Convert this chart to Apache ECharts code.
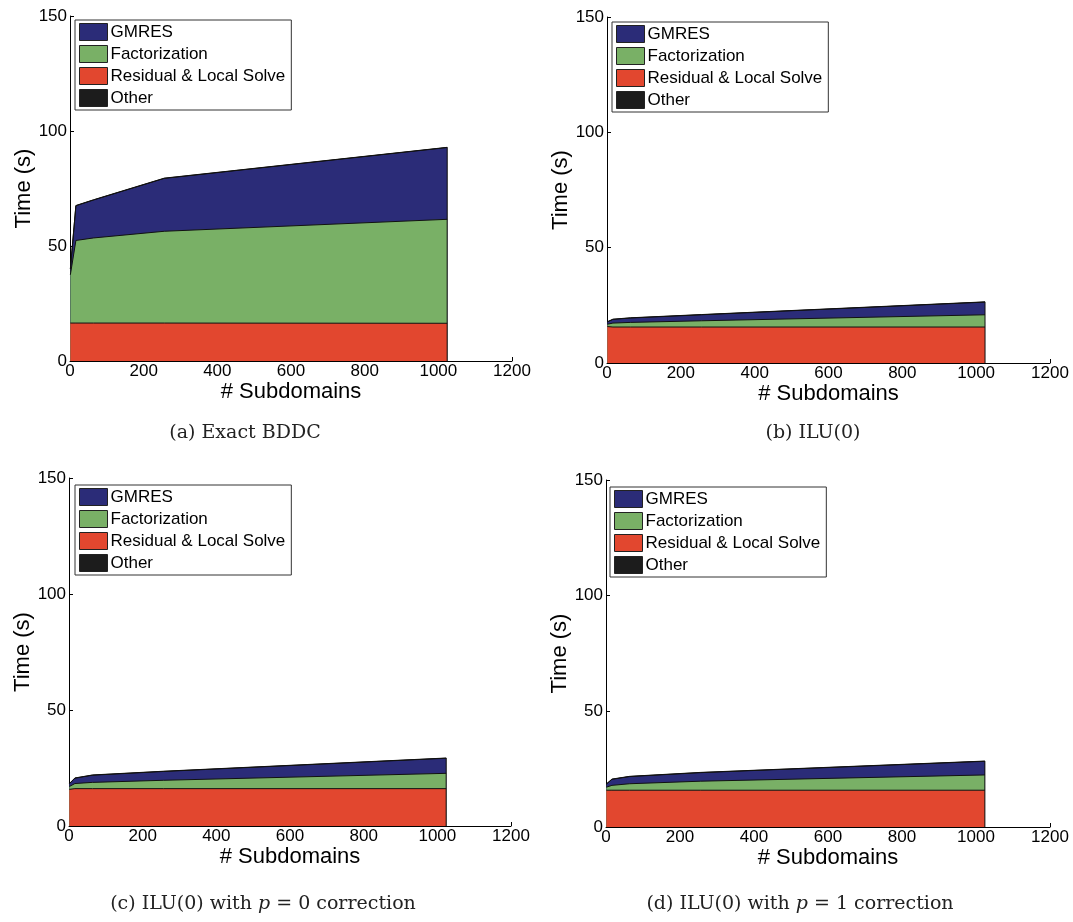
<!DOCTYPE html>
<html>
<head>
<meta charset="utf-8">
<script src="https://cdn.jsdelivr.net/npm/echarts@6/dist/echarts.min.js"></script>
<style>
  html, body { margin: 0; padding: 0; background: #fff; }
  #chart { width: 1073px; height: 922px; }
</style>
</head>
<body>
<div id="chart"></div>
<script>
// Number of subdomains at which the timings were taken
const subdomains = [1, 16, 64, 256, 1024];

// (a) Exact BDDC
const residualA = [16.5, 16.5, 16.5, 16.5, 16.4];
const factorA   = [21.0, 35.9, 37.0, 39.9, 45.2];
const gmresA    = [2.5, 15.1, 16.5, 23.0, 31.2];
const otherA    = [0.1, 0.1, 0.1, 0.1, 0.1];

// (b) ILU(0)
const residualB = [15.8, 15.6, 15.6, 15.6, 15.6];
const factorB   = [1.0, 1.7, 2.0, 2.7, 5.3];
const gmresB    = [1.0, 1.6, 1.9, 2.6, 5.5];
const otherB    = [0.1, 0.1, 0.1, 0.1, 0.1];

// (c) ILU(0) with p = 0 correction
const residualC = [15.8, 16.1, 16.1, 16.1, 16.1];
const factorC   = [1.2, 2.2, 2.7, 3.6, 6.6];
const gmresC    = [1.2, 2.3, 3.1, 3.8, 6.5];
const otherC    = [0.1, 0.1, 0.1, 0.1, 0.1];

// (d) ILU(0) with p = 1 correction
const residualD = [15.9, 15.9, 15.9, 15.9, 15.9];
const factorD   = [1.3, 2.1, 2.8, 3.9, 6.6];
const gmresD    = [1.3, 2.6, 3.1, 3.7, 5.9];
const otherD    = [0.1, 0.1, 0.1, 0.1, 0.1];

const xTicks = { min: 0, max: 1200, interval: 200 };
const yTicks = { min: 0, max: 150, interval: 50 };

const legendNames = ['GMRES', 'Factorization', 'Residual & Local Solve', 'Other'];
const colors = {
  'GMRES': '#2b2c78',
  'Factorization': '#79b066',
  'Residual & Local Solve': '#e2472f',
  'Other': '#1c1c1c'
};

const panels = [
  { grid: { left: 70, top: 16, width: 442, height: 345 }, legend: { left: 75, top: 20 },
    residual: residualA, factor: factorA, gmres: gmresA, other: otherA },
  { grid: { left: 607, top: 17, width: 443, height: 346 }, legend: { left: 612, top: 22 },
    residual: residualB, factor: factorB, gmres: gmresB, other: otherB },
  { grid: { left: 69, top: 478, width: 442, height: 348 }, legend: { left: 75, top: 485 },
    residual: residualC, factor: factorC, gmres: gmresC, other: otherC },
  { grid: { left: 606, top: 480, width: 444, height: 347 }, legend: { left: 610, top: 487 },
    residual: residualD, factor: factorD, gmres: gmresD, other: otherD }
];

const font = 'Liberation Sans, Arial, Helvetica, sans-serif';
const grids = [], xAxes = [], yAxes = [], legends = [], series = [];

panels.forEach((p, i) => {
  grids.push(p.grid);
  xAxes.push({
    type: 'value', gridIndex: i, min: xTicks.min, max: xTicks.max, interval: xTicks.interval,
    name: '# Subdomains', nameLocation: 'middle', nameGap: 15,
    nameTextStyle: { fontFamily: font, fontSize: 22, color: '#000' },
    axisLine: { show: true, onZero: false, lineStyle: { color: '#000', width: 1 } },
    axisTick: { show: true, inside: true, length: 4, lineStyle: { color: '#000' } },
    axisLabel: { fontFamily: font, fontSize: 17, color: '#000', margin: 2, formatter: v => String(v) },
    splitLine: { show: false }
  });
  yAxes.push({
    type: 'value', gridIndex: i, min: yTicks.min, max: yTicks.max, interval: yTicks.interval,
    name: 'Time (s)', nameLocation: 'middle', nameGap: 34,
    nameTextStyle: { fontFamily: font, fontSize: 22, color: '#000' },
    axisLine: { show: true, lineStyle: { color: '#000', width: 1 } },
    axisTick: { show: true, inside: true, length: 4, lineStyle: { color: '#000' } },
    axisLabel: { fontFamily: font, fontSize: 17, color: '#000', margin: 3, formatter: v => String(v) },
    splitLine: { show: false }
  });
  legends.push({
    left: p.legend.left, top: p.legend.top, orient: 'vertical',
    data: legendNames, icon: 'rect', itemWidth: 28, itemHeight: 17, itemGap: 4,
    itemStyle: { borderColor: '#222', borderWidth: 1 },
    textStyle: { fontFamily: font, fontSize: 17, color: '#000', padding: [0, 0, 0, -2] },
    borderColor: '#333', borderWidth: 1, padding: [3, 6, 3, 4],
    backgroundColor: '#fff', selectedMode: false
  });

  // Cumulative tops of each layer; the tallest is drawn first and the
  // lower layers are painted over it, so each visible band is one component.
  const cumRes = p.residual.slice();
  const cumFac = cumRes.map((v, k) => v + p.factor[k]);
  const cumGm  = cumFac.map((v, k) => v + p.gmres[k]);
  const cumOth = cumGm.map((v, k) => v + p.other[k]);
  const layers = [
    ['Other', cumOth],
    ['GMRES', cumGm],
    ['Factorization', cumFac],
    ['Residual & Local Solve', cumRes]
  ];
  layers.forEach(([name, tops]) => {
    series.push({
      type: 'line', name, xAxisIndex: i, yAxisIndex: i,
      data: subdomains.map((x, k) => [x, tops[k]]),
      showSymbol: false, symbol: 'none', z: 2,
      color: colors[name],
      lineStyle: { color: '#111', width: 1 },
      areaStyle: { color: colors[name], opacity: 1, origin: 'start' },
      emphasis: { disabled: true }
    });
  });

  // closing edge of the stacked patches at the last subdomain count
  const last = subdomains.length - 1;
  series.push({
    type: 'line', name: 'edge' + i, xAxisIndex: i, yAxisIndex: i,
    data: [[subdomains[last], 0], [subdomains[last], cumOth[last]]],
    showSymbol: false, symbol: 'none', z: 3,
    lineStyle: { color: '#111', width: 1 }, emphasis: { disabled: true }
  });
});

const captionFont = 'DejaVu Serif, Liberation Serif, serif';
const captionStyle = { fontFamily: captionFont, fontSize: 19, color: '#222', fontWeight: 'normal' };
const rich = {
  n: { fontFamily: captionFont, fontSize: 19, color: '#222' },
  i: { fontFamily: captionFont, fontSize: 19, color: '#222', fontStyle: 'italic' }
};

const titles = [
  { text: '(a) Exact BDDC', left: 240, top: 419, textAlign: 'center', textStyle: captionStyle },
  { text: '(b) ILU(0)', left: 808, top: 419, textAlign: 'center', textStyle: captionStyle },
  { text: '{n|(c) ILU(0) with }{i|p}{n| = 0 correction}', left: 258, top: 890, textAlign: 'center',
    textStyle: Object.assign({ rich }, captionStyle) },
  { text: '{n|(d) ILU(0) with }{i|p}{n| = 1 correction}', left: 795, top: 890, textAlign: 'center',
    textStyle: Object.assign({ rich }, captionStyle) }
];

const chart = echarts.init(document.getElementById('chart'), null, { renderer: 'canvas' });
chart.setOption({
  animation: false,
  backgroundColor: '#fff',
  title: titles,
  grid: grids,
  xAxis: xAxes,
  yAxis: yAxes,
  legend: legends,
  series
});
</script>
</body>
</html>
